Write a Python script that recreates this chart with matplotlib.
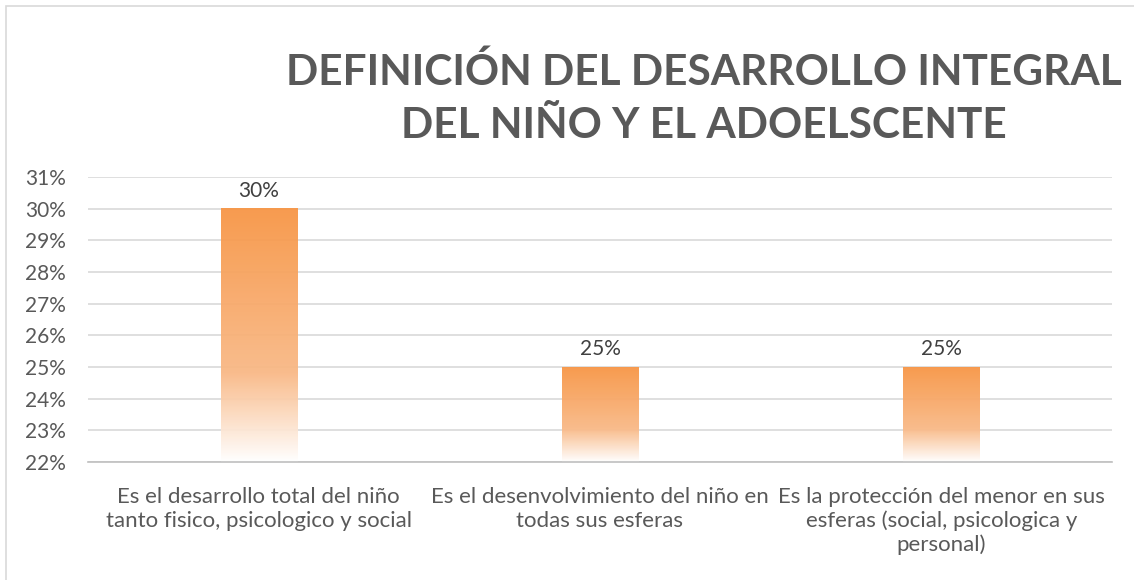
import numpy as np
import matplotlib.pyplot as plt
from matplotlib.colors import LinearSegmentedColormap
from matplotlib.patches import Rectangle

plt.rcParams['font.family'] = ['Lato', 'DejaVu Sans']

categorias = ['Es el desarrollo total del niño\ntanto fisico, psicologico y social',
              'Es el desenvolvimiento del niño en\ntodas sus esferas',
              'Es la protección del menor en sus\nesferas (social, psicologica y\npersonal)']
valores = [0.30, 0.25, 0.25]
etiquetas = ['30%', '25%', '25%']
yticks = np.arange(0.22, 0.3101, 0.01)

fig = plt.figure(figsize=(11.34, 5.80), dpi=100)
fig.patches.append(Rectangle((6 / 1134, -0.1), 1.2, 1 - 6 / 580 + 0.1, transform=fig.transFigure,
                             fill=False, edgecolor='#D9D9D9', linewidth=1.2))
ax = fig.add_axes([88 / 1134, 1 - 462 / 580, 1024 / 1134, 285 / 580])

x = np.arange(len(valores))
ymin, ymax = 0.22, 0.31
barras = ax.bar(x, [v - ymin for v in valores], bottom=ymin, width=0.223, color='none', zorder=2)

cmap = LinearSegmentedColormap.from_list('naranja', [(0, '#FFFFFF'), (0.22, '#FBD3B3'),
                                                      (0.35, '#F9B987'), (1, '#F79646')])
grad = np.linspace(0, 1, 256).reshape(-1, 1)
for b in barras:
    x0, y0 = b.get_x(), b.get_y()
    ax.imshow(grad, cmap=cmap, origin='lower', aspect='auto', alpha=0.95,
              extent=(x0, x0 + b.get_width(), y0, y0 + b.get_height()), zorder=2)

for xi, v, t in zip(x, valores, etiquetas):
    ax.text(xi, v + 0.0025, t, ha='center', va='bottom', fontsize=15, color='#404040')

ax.set_xlim(-0.5, 2.5)
ax.set_ylim(ymin, ymax)
ax.set_yticks(yticks)
ax.set_yticklabels([f'{round(t * 100)}%' for t in yticks], fontsize=15, color='#595959')
ax.set_xticks(x)
ax.set_xticklabels(categorias, fontsize=16, color='#595959', linespacing=1.22)
ax.tick_params(length=0)
ax.tick_params(axis='x', pad=18)
ax.tick_params(axis='y', pad=16)
ax.grid(axis='y', color='#D9D9D9', linewidth=1.2, zorder=0)
ax.set_axisbelow(True)
for s in ['top', 'right', 'left']:
    ax.spines[s].set_visible(False)
ax.spines['bottom'].set_color('#BFBFBF')
ax.spines['bottom'].set_linewidth(1.2)

fig.text(704 / 1134, 1 - 99 / 580, 'DEFINICIÓN DEL DESARROLLO INTEGRAL\nDEL NIÑO Y EL ADOELSCENTE',
         ha='center', va='center', fontsize=30.5, fontweight='bold', color='#595959', linespacing=1.5)

fig.savefig('out.png', dpi=100)
